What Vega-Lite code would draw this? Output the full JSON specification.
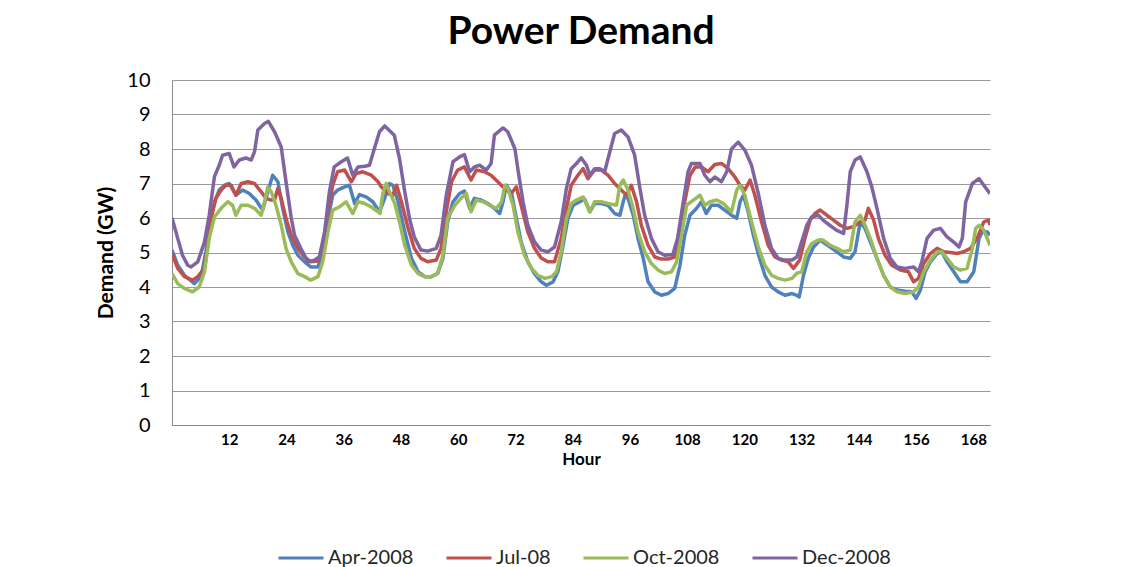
{
 "$schema": "https://vega.github.io/schema/vega-lite/v6.json",
 "autosize": "none",
 "width": 818,
 "height": 345,
 "padding": {"left": 172, "top": 80, "right": 151, "bottom": 142},
 "background": "white",
 "title": {"text": "Power Demand", "font": "Lato", "fontSize": 39, "fontWeight": "bold", "color": "#000000", "anchor": "middle", "offset": 18},
 "config": {"view": {"stroke": null}, "font": "Lato"},
 "data": {"values": [
{"series":"Apr-2008","hour":0,"demand":5.07},{"series":"Apr-2008","hour":1.2,"demand":4.63},{"series":"Apr-2008","hour":2.6,"demand":4.34},{"series":"Apr-2008","hour":4.7,"demand":4.1},{"series":"Apr-2008","hour":6.1,"demand":4.3},{"series":"Apr-2008","hour":7.1,"demand":5.02},{"series":"Apr-2008","hour":7.8,"demand":5.79},{"series":"Apr-2008","hour":8.9,"demand":6.47},{"series":"Apr-2008","hour":9.9,"demand":6.81},{"series":"Apr-2008","hour":11,"demand":6.95},{"series":"Apr-2008","hour":12,"demand":7.0},{"series":"Apr-2008","hour":13.4,"demand":6.66},{"series":"Apr-2008","hour":14.8,"demand":6.81},{"series":"Apr-2008","hour":16.2,"demand":6.71},{"series":"Apr-2008","hour":17.6,"demand":6.52},{"series":"Apr-2008","hour":19,"demand":6.23},{"series":"Apr-2008","hour":20.1,"demand":6.76},{"series":"Apr-2008","hour":21.1,"demand":7.24},{"series":"Apr-2008","hour":22.2,"demand":7.05},{"series":"Apr-2008","hour":23.2,"demand":6.28},{"series":"Apr-2008","hour":24.3,"demand":5.6},{"series":"Apr-2008","hour":25.3,"demand":5.21},{"series":"Apr-2008","hour":26.4,"demand":4.92},{"series":"Apr-2008","hour":27.8,"demand":4.73},{"series":"Apr-2008","hour":29.1,"demand":4.58},{"series":"Apr-2008","hour":30.6,"demand":4.58},{"series":"Apr-2008","hour":31.6,"demand":5.02},{"series":"Apr-2008","hour":32.7,"demand":5.99},{"series":"Apr-2008","hour":33.7,"demand":6.66},{"series":"Apr-2008","hour":34.7,"demand":6.81},{"series":"Apr-2008","hour":36.2,"demand":6.9},{"series":"Apr-2008","hour":37.2,"demand":6.95},{"series":"Apr-2008","hour":38.3,"demand":6.42},{"series":"Apr-2008","hour":39.3,"demand":6.68},{"series":"Apr-2008","hour":40.7,"demand":6.61},{"series":"Apr-2008","hour":42.1,"demand":6.47},{"series":"Apr-2008","hour":43.5,"demand":6.18},{"series":"Apr-2008","hour":44.6,"demand":6.57},{"series":"Apr-2008","hour":45.6,"demand":7.0},{"series":"Apr-2008","hour":46.3,"demand":6.95},{"series":"Apr-2008","hour":47.4,"demand":6.47},{"series":"Apr-2008","hour":48.8,"demand":5.6},{"series":"Apr-2008","hour":50.2,"demand":4.83},{"series":"Apr-2008","hour":51.6,"demand":4.44},{"series":"Apr-2008","hour":53,"demand":4.3},{"series":"Apr-2008","hour":54.4,"demand":4.3},{"series":"Apr-2008","hour":55.7,"demand":4.39},{"series":"Apr-2008","hour":56.8,"demand":4.83},{"series":"Apr-2008","hour":57.8,"demand":5.89},{"series":"Apr-2008","hour":58.9,"demand":6.47},{"series":"Apr-2008","hour":60.3,"demand":6.71},{"series":"Apr-2008","hour":61.3,"demand":6.78},{"series":"Apr-2008","hour":62.4,"demand":6.28},{"series":"Apr-2008","hour":63.4,"demand":6.57},{"series":"Apr-2008","hour":64.8,"demand":6.52},{"series":"Apr-2008","hour":66.2,"demand":6.42},{"series":"Apr-2008","hour":67.6,"demand":6.28},{"series":"Apr-2008","hour":68.7,"demand":6.13},{"series":"Apr-2008","hour":69.4,"demand":6.47},{"series":"Apr-2008","hour":70.1,"demand":6.95},{"series":"Apr-2008","hour":71.2,"demand":6.71},{"series":"Apr-2008","hour":72.2,"demand":5.99},{"series":"Apr-2008","hour":73.2,"demand":5.31},{"series":"Apr-2008","hour":74.6,"demand":4.73},{"series":"Apr-2008","hour":76,"demand":4.39},{"series":"Apr-2008","hour":77.4,"demand":4.15},{"series":"Apr-2008","hour":78.5,"demand":4.05},{"series":"Apr-2008","hour":79.9,"demand":4.15},{"series":"Apr-2008","hour":80.9,"demand":4.44},{"series":"Apr-2008","hour":82,"demand":5.21},{"series":"Apr-2008","hour":83,"demand":5.99},{"series":"Apr-2008","hour":84.1,"demand":6.37},{"series":"Apr-2008","hour":85.5,"demand":6.47},{"series":"Apr-2008","hour":86.5,"demand":6.55},{"series":"Apr-2008","hour":87.6,"demand":6.18},{"series":"Apr-2008","hour":88.6,"demand":6.42},{"series":"Apr-2008","hour":90,"demand":6.42},{"series":"Apr-2008","hour":91.4,"demand":6.37},{"series":"Apr-2008","hour":92.8,"demand":6.13},{"series":"Apr-2008","hour":93.9,"demand":6.08},{"series":"Apr-2008","hour":94.6,"demand":6.47},{"series":"Apr-2008","hour":95,"demand":6.66},{"series":"Apr-2008","hour":95.6,"demand":6.57},{"series":"Apr-2008","hour":96.7,"demand":6.08},{"series":"Apr-2008","hour":97.7,"demand":5.41},{"series":"Apr-2008","hour":98.8,"demand":4.83},{"series":"Apr-2008","hour":99.8,"demand":4.15},{"series":"Apr-2008","hour":101.2,"demand":3.86},{"series":"Apr-2008","hour":102.6,"demand":3.76},{"series":"Apr-2008","hour":104,"demand":3.81},{"series":"Apr-2008","hour":105.4,"demand":3.96},{"series":"Apr-2008","hour":106.5,"demand":4.63},{"series":"Apr-2008","hour":107.5,"demand":5.5},{"series":"Apr-2008","hour":108.6,"demand":6.08},{"series":"Apr-2008","hour":110,"demand":6.28},{"series":"Apr-2008","hour":111,"demand":6.47},{"series":"Apr-2008","hour":112,"demand":6.13},{"series":"Apr-2008","hour":113.1,"demand":6.37},{"series":"Apr-2008","hour":114.5,"demand":6.37},{"series":"Apr-2008","hour":115.9,"demand":6.23},{"series":"Apr-2008","hour":117.3,"demand":6.08},{"series":"Apr-2008","hour":118.4,"demand":5.99},{"series":"Apr-2008","hour":119.1,"demand":6.47},{"series":"Apr-2008","hour":119.8,"demand":6.66},{"series":"Apr-2008","hour":120.8,"demand":6.18},{"series":"Apr-2008","hour":121.9,"demand":5.5},{"series":"Apr-2008","hour":123,"demand":4.92},{"series":"Apr-2008","hour":124.3,"demand":4.34},{"series":"Apr-2008","hour":125.7,"demand":4.0},{"series":"Apr-2008","hour":127.1,"demand":3.86},{"series":"Apr-2008","hour":128.5,"demand":3.76},{"series":"Apr-2008","hour":130,"demand":3.81},{"series":"Apr-2008","hour":131,"demand":3.76},{"series":"Apr-2008","hour":131.5,"demand":3.71},{"series":"Apr-2008","hour":132.4,"demand":4.34},{"series":"Apr-2008","hour":133.4,"demand":4.83},{"series":"Apr-2008","hour":134.5,"demand":5.16},{"series":"Apr-2008","hour":135.9,"demand":5.36},{"series":"Apr-2008","hour":136.9,"demand":5.26},{"series":"Apr-2008","hour":138,"demand":5.16},{"series":"Apr-2008","hour":139.4,"demand":5.02},{"series":"Apr-2008","hour":140.8,"demand":4.87},{"series":"Apr-2008","hour":142.2,"demand":4.83},{"series":"Apr-2008","hour":143.2,"demand":5.02},{"series":"Apr-2008","hour":144.3,"demand":5.89},{"series":"Apr-2008","hour":145.3,"demand":5.7},{"series":"Apr-2008","hour":146.4,"demand":5.31},{"series":"Apr-2008","hour":147.8,"demand":4.83},{"series":"Apr-2008","hour":149.2,"demand":4.34},{"series":"Apr-2008","hour":150.6,"demand":4.0},{"series":"Apr-2008","hour":152,"demand":3.91},{"series":"Apr-2008","hour":153.7,"demand":3.88},{"series":"Apr-2008","hour":155.1,"demand":3.86},{"series":"Apr-2008","hour":156,"demand":3.67},{"series":"Apr-2008","hour":156.9,"demand":3.91},{"series":"Apr-2008","hour":157.9,"demand":4.44},{"series":"Apr-2008","hour":159,"demand":4.73},{"series":"Apr-2008","hour":160.4,"demand":4.97},{"series":"Apr-2008","hour":161.4,"demand":5.02},{"series":"Apr-2008","hour":162.5,"demand":4.73},{"series":"Apr-2008","hour":163.9,"demand":4.44},{"series":"Apr-2008","hour":165.3,"demand":4.15},{"series":"Apr-2008","hour":166.7,"demand":4.15},{"series":"Apr-2008","hour":168.1,"demand":4.44},{"series":"Apr-2008","hour":169.2,"demand":5.41},{"series":"Apr-2008","hour":169.9,"demand":5.6},{"series":"Apr-2008","hour":170.9,"demand":5.6},{"series":"Apr-2008","hour":171.5,"demand":5.5},
{"series":"Jul-08","hour":0,"demand":4.97},{"series":"Jul-08","hour":1.2,"demand":4.54},{"series":"Jul-08","hour":2.6,"demand":4.3},{"series":"Jul-08","hour":4.3,"demand":4.2},{"series":"Jul-08","hour":5.4,"demand":4.3},{"series":"Jul-08","hour":6.8,"demand":4.54},{"series":"Jul-08","hour":7.5,"demand":5.21},{"series":"Jul-08","hour":8.2,"demand":5.99},{"series":"Jul-08","hour":9.2,"demand":6.57},{"series":"Jul-08","hour":10.3,"demand":6.81},{"series":"Jul-08","hour":11.3,"demand":6.95},{"series":"Jul-08","hour":12.4,"demand":6.95},{"series":"Jul-08","hour":13.4,"demand":6.66},{"series":"Jul-08","hour":14.5,"demand":7.0},{"series":"Jul-08","hour":15.9,"demand":7.05},{"series":"Jul-08","hour":17.3,"demand":7.0},{"series":"Jul-08","hour":18.7,"demand":6.76},{"series":"Jul-08","hour":19.7,"demand":6.57},{"series":"Jul-08","hour":20.8,"demand":6.52},{"series":"Jul-08","hour":21.5,"demand":6.52},{"series":"Jul-08","hour":22.2,"demand":6.86},{"series":"Jul-08","hour":22.9,"demand":6.57},{"series":"Jul-08","hour":23.9,"demand":5.99},{"series":"Jul-08","hour":25,"demand":5.5},{"series":"Jul-08","hour":26.4,"demand":5.12},{"series":"Jul-08","hour":27.8,"demand":4.87},{"series":"Jul-08","hour":29.1,"demand":4.73},{"series":"Jul-08","hour":30.6,"demand":4.75},{"series":"Jul-08","hour":31.6,"demand":5.21},{"series":"Jul-08","hour":32.7,"demand":6.18},{"series":"Jul-08","hour":33.7,"demand":6.95},{"series":"Jul-08","hour":34.7,"demand":7.34},{"series":"Jul-08","hour":36.2,"demand":7.39},{"series":"Jul-08","hour":37.6,"demand":7.05},{"series":"Jul-08","hour":38.6,"demand":7.29},{"series":"Jul-08","hour":40,"demand":7.34},{"series":"Jul-08","hour":41.8,"demand":7.24},{"series":"Jul-08","hour":43.2,"demand":7.05},{"series":"Jul-08","hour":43.9,"demand":6.9},{"series":"Jul-08","hour":45.3,"demand":6.71},{"series":"Jul-08","hour":46.3,"demand":6.66},{"series":"Jul-08","hour":47.1,"demand":6.95},{"series":"Jul-08","hour":48.1,"demand":6.47},{"series":"Jul-08","hour":49.5,"demand":5.7},{"series":"Jul-08","hour":50.8,"demand":5.12},{"series":"Jul-08","hour":52.2,"demand":4.83},{"series":"Jul-08","hour":53.6,"demand":4.73},{"series":"Jul-08","hour":55.4,"demand":4.78},{"series":"Jul-08","hour":56.4,"demand":5.12},{"series":"Jul-08","hour":57.5,"demand":6.18},{"series":"Jul-08","hour":58.6,"demand":7.05},{"series":"Jul-08","hour":59.9,"demand":7.39},{"series":"Jul-08","hour":61.3,"demand":7.48},{"series":"Jul-08","hour":62.7,"demand":7.1},{"series":"Jul-08","hour":63.8,"demand":7.39},{"series":"Jul-08","hour":65.5,"demand":7.34},{"series":"Jul-08","hour":66.9,"demand":7.24},{"series":"Jul-08","hour":68.3,"demand":7.05},{"series":"Jul-08","hour":69.7,"demand":6.86},{"series":"Jul-08","hour":71.1,"demand":6.71},{"series":"Jul-08","hour":72.2,"demand":6.9},{"series":"Jul-08","hour":73.2,"demand":6.37},{"series":"Jul-08","hour":74.6,"demand":5.6},{"series":"Jul-08","hour":76,"demand":5.12},{"series":"Jul-08","hour":77.4,"demand":4.84},{"series":"Jul-08","hour":78.8,"demand":4.73},{"series":"Jul-08","hour":80.2,"demand":4.73},{"series":"Jul-08","hour":81.6,"demand":5.41},{"series":"Jul-08","hour":82.7,"demand":6.28},{"series":"Jul-08","hour":83.7,"demand":6.95},{"series":"Jul-08","hour":85.1,"demand":7.24},{"series":"Jul-08","hour":86.2,"demand":7.43},{"series":"Jul-08","hour":87.2,"demand":7.14},{"series":"Jul-08","hour":88.6,"demand":7.39},{"series":"Jul-08","hour":90,"demand":7.39},{"series":"Jul-08","hour":91.4,"demand":7.24},{"series":"Jul-08","hour":92.8,"demand":7.0},{"series":"Jul-08","hour":94.2,"demand":6.81},{"series":"Jul-08","hour":95.3,"demand":6.66},{"series":"Jul-08","hour":96.3,"demand":6.95},{"series":"Jul-08","hour":97.4,"demand":6.47},{"series":"Jul-08","hour":98.4,"demand":5.79},{"series":"Jul-08","hour":99.8,"demand":5.21},{"series":"Jul-08","hour":101.2,"demand":4.87},{"series":"Jul-08","hour":102.6,"demand":4.81},{"series":"Jul-08","hour":104,"demand":4.81},{"series":"Jul-08","hour":105.4,"demand":4.87},{"series":"Jul-08","hour":106.5,"demand":5.5},{"series":"Jul-08","hour":107.5,"demand":6.47},{"series":"Jul-08","hour":108.6,"demand":7.24},{"series":"Jul-08","hour":109.7,"demand":7.48},{"series":"Jul-08","hour":111,"demand":7.48},{"series":"Jul-08","hour":112.4,"demand":7.34},{"series":"Jul-08","hour":113.8,"demand":7.55},{"series":"Jul-08","hour":115.2,"demand":7.58},{"series":"Jul-08","hour":116.6,"demand":7.43},{"series":"Jul-08","hour":118,"demand":7.19},{"series":"Jul-08","hour":119.1,"demand":6.95},{"series":"Jul-08","hour":120.1,"demand":6.81},{"series":"Jul-08","hour":121.2,"demand":7.1},{"series":"Jul-08","hour":122.2,"demand":6.66},{"series":"Jul-08","hour":123.6,"demand":5.89},{"series":"Jul-08","hour":125,"demand":5.21},{"series":"Jul-08","hour":126.4,"demand":4.87},{"series":"Jul-08","hour":127.8,"demand":4.78},{"series":"Jul-08","hour":129.2,"demand":4.73},{"series":"Jul-08","hour":130.3,"demand":4.54},{"series":"Jul-08","hour":131.6,"demand":4.78},{"series":"Jul-08","hour":132.7,"demand":5.41},{"series":"Jul-08","hour":133.8,"demand":5.94},{"series":"Jul-08","hour":134.8,"demand":6.13},{"series":"Jul-08","hour":135.9,"demand":6.23},{"series":"Jul-08","hour":137.3,"demand":6.08},{"series":"Jul-08","hour":138.7,"demand":5.94},{"series":"Jul-08","hour":140.1,"demand":5.79},{"series":"Jul-08","hour":141.5,"demand":5.7},{"series":"Jul-08","hour":142.9,"demand":5.75},{"series":"Jul-08","hour":144.3,"demand":5.89},{"series":"Jul-08","hour":145.3,"demand":5.94},{"series":"Jul-08","hour":146,"demand":6.28},{"series":"Jul-08","hour":147.1,"demand":5.94},{"series":"Jul-08","hour":148.1,"demand":5.41},{"series":"Jul-08","hour":149.5,"demand":4.92},{"series":"Jul-08","hour":150.9,"demand":4.63},{"series":"Jul-08","hour":152.7,"demand":4.49},{"series":"Jul-08","hour":154.4,"demand":4.44},{"series":"Jul-08","hour":155.5,"demand":4.15},{"series":"Jul-08","hour":156.5,"demand":4.25},{"series":"Jul-08","hour":157.6,"demand":4.68},{"series":"Jul-08","hour":159,"demand":4.97},{"series":"Jul-08","hour":160.4,"demand":5.12},{"series":"Jul-08","hour":161.8,"demand":5.02},{"series":"Jul-08","hour":163.2,"demand":5.0},{"series":"Jul-08","hour":164.6,"demand":4.97},{"series":"Jul-08","hour":166,"demand":5.02},{"series":"Jul-08","hour":167.4,"demand":5.12},{"series":"Jul-08","hour":168.8,"demand":5.41},{"series":"Jul-08","hour":170.2,"demand":5.89},{"series":"Jul-08","hour":171.2,"demand":5.94},{"series":"Jul-08","hour":171.5,"demand":5.8},
{"series":"Oct-2008","hour":0,"demand":4.39},{"series":"Oct-2008","hour":1.2,"demand":4.1},{"series":"Oct-2008","hour":2.6,"demand":3.96},{"series":"Oct-2008","hour":4.3,"demand":3.86},{"series":"Oct-2008","hour":5.7,"demand":4.0},{"series":"Oct-2008","hour":6.8,"demand":4.44},{"series":"Oct-2008","hour":7.8,"demand":5.41},{"series":"Oct-2008","hour":8.9,"demand":6.03},{"series":"Oct-2008","hour":10.3,"demand":6.28},{"series":"Oct-2008","hour":11.7,"demand":6.47},{"series":"Oct-2008","hour":12.7,"demand":6.37},{"series":"Oct-2008","hour":13.4,"demand":6.08},{"series":"Oct-2008","hour":14.5,"demand":6.37},{"series":"Oct-2008","hour":15.9,"demand":6.37},{"series":"Oct-2008","hour":17.3,"demand":6.28},{"series":"Oct-2008","hour":18.7,"demand":6.08},{"series":"Oct-2008","hour":19.4,"demand":6.47},{"series":"Oct-2008","hour":20.1,"demand":6.9},{"series":"Oct-2008","hour":20.8,"demand":6.76},{"series":"Oct-2008","hour":21.8,"demand":6.37},{"series":"Oct-2008","hour":22.9,"demand":5.79},{"series":"Oct-2008","hour":23.9,"demand":5.12},{"series":"Oct-2008","hour":25,"demand":4.73},{"series":"Oct-2008","hour":26.4,"demand":4.39},{"series":"Oct-2008","hour":27.8,"demand":4.3},{"series":"Oct-2008","hour":29.1,"demand":4.2},{"series":"Oct-2008","hour":30.6,"demand":4.3},{"series":"Oct-2008","hour":31.6,"demand":4.73},{"series":"Oct-2008","hour":32.7,"demand":5.6},{"series":"Oct-2008","hour":33.7,"demand":6.23},{"series":"Oct-2008","hour":35.1,"demand":6.32},{"series":"Oct-2008","hour":36.5,"demand":6.47},{"series":"Oct-2008","hour":37.9,"demand":6.13},{"series":"Oct-2008","hour":39,"demand":6.47},{"series":"Oct-2008","hour":40.4,"demand":6.42},{"series":"Oct-2008","hour":41.8,"demand":6.32},{"series":"Oct-2008","hour":43.2,"demand":6.18},{"series":"Oct-2008","hour":43.6,"demand":6.13},{"series":"Oct-2008","hour":44.2,"demand":6.71},{"series":"Oct-2008","hour":44.9,"demand":7.0},{"series":"Oct-2008","hour":45.6,"demand":6.76},{"series":"Oct-2008","hour":46.7,"demand":6.42},{"series":"Oct-2008","hour":47.7,"demand":5.89},{"series":"Oct-2008","hour":48.8,"demand":5.21},{"series":"Oct-2008","hour":50.2,"demand":4.63},{"series":"Oct-2008","hour":51.6,"demand":4.39},{"series":"Oct-2008","hour":53,"demand":4.3},{"series":"Oct-2008","hour":54.4,"demand":4.3},{"series":"Oct-2008","hour":55.7,"demand":4.39},{"series":"Oct-2008","hour":56.8,"demand":4.92},{"series":"Oct-2008","hour":57.8,"demand":5.99},{"series":"Oct-2008","hour":59.3,"demand":6.37},{"series":"Oct-2008","hour":60.6,"demand":6.57},{"series":"Oct-2008","hour":61.7,"demand":6.71},{"series":"Oct-2008","hour":62.7,"demand":6.18},{"series":"Oct-2008","hour":63.8,"demand":6.52},{"series":"Oct-2008","hour":65.2,"demand":6.47},{"series":"Oct-2008","hour":66.6,"demand":6.37},{"series":"Oct-2008","hour":68,"demand":6.28},{"series":"Oct-2008","hour":69.1,"demand":6.47},{"series":"Oct-2008","hour":69.8,"demand":6.95},{"series":"Oct-2008","hour":70.4,"demand":6.86},{"series":"Oct-2008","hour":71.5,"demand":6.37},{"series":"Oct-2008","hour":72.5,"demand":5.6},{"series":"Oct-2008","hour":73.9,"demand":4.92},{"series":"Oct-2008","hour":75.4,"demand":4.54},{"series":"Oct-2008","hour":76.7,"demand":4.34},{"series":"Oct-2008","hour":78.2,"demand":4.25},{"series":"Oct-2008","hour":79.6,"demand":4.3},{"series":"Oct-2008","hour":80.6,"demand":4.44},{"series":"Oct-2008","hour":81.6,"demand":5.02},{"series":"Oct-2008","hour":82.7,"demand":5.99},{"series":"Oct-2008","hour":83.7,"demand":6.42},{"series":"Oct-2008","hour":84.8,"demand":6.52},{"series":"Oct-2008","hour":86.2,"demand":6.61},{"series":"Oct-2008","hour":87.6,"demand":6.18},{"series":"Oct-2008","hour":88.6,"demand":6.47},{"series":"Oct-2008","hour":90,"demand":6.47},{"series":"Oct-2008","hour":91.4,"demand":6.42},{"series":"Oct-2008","hour":93.2,"demand":6.37},{"series":"Oct-2008","hour":93.9,"demand":6.95},{"series":"Oct-2008","hour":94.6,"demand":7.1},{"series":"Oct-2008","hour":95.6,"demand":6.81},{"series":"Oct-2008","hour":96.7,"demand":6.28},{"series":"Oct-2008","hour":97.7,"demand":5.6},{"series":"Oct-2008","hour":99.1,"demand":5.02},{"series":"Oct-2008","hour":100.5,"demand":4.68},{"series":"Oct-2008","hour":101.9,"demand":4.49},{"series":"Oct-2008","hour":103.3,"demand":4.39},{"series":"Oct-2008","hour":104.7,"demand":4.44},{"series":"Oct-2008","hour":105.8,"demand":4.73},{"series":"Oct-2008","hour":106.8,"demand":5.5},{"series":"Oct-2008","hour":107.9,"demand":6.37},{"series":"Oct-2008","hour":109.3,"demand":6.52},{"series":"Oct-2008","hour":110.7,"demand":6.66},{"series":"Oct-2008","hour":111.7,"demand":6.37},{"series":"Oct-2008","hour":112.8,"demand":6.47},{"series":"Oct-2008","hour":114.2,"demand":6.52},{"series":"Oct-2008","hour":115.6,"demand":6.42},{"series":"Oct-2008","hour":117.3,"demand":6.18},{"series":"Oct-2008","hour":118.4,"demand":6.81},{"series":"Oct-2008","hour":119.1,"demand":6.95},{"series":"Oct-2008","hour":120.1,"demand":6.66},{"series":"Oct-2008","hour":121.5,"demand":5.89},{"series":"Oct-2008","hour":123,"demand":5.12},{"series":"Oct-2008","hour":124.3,"demand":4.63},{"series":"Oct-2008","hour":125.7,"demand":4.34},{"series":"Oct-2008","hour":127.1,"demand":4.25},{"series":"Oct-2008","hour":128.5,"demand":4.2},{"series":"Oct-2008","hour":130,"demand":4.25},{"series":"Oct-2008","hour":131,"demand":4.4},{"series":"Oct-2008","hour":132,"demand":4.44},{"series":"Oct-2008","hour":133.1,"demand":5.02},{"series":"Oct-2008","hour":134.1,"demand":5.26},{"series":"Oct-2008","hour":135.5,"demand":5.36},{"series":"Oct-2008","hour":136.5,"demand":5.36},{"series":"Oct-2008","hour":138,"demand":5.21},{"series":"Oct-2008","hour":139.4,"demand":5.12},{"series":"Oct-2008","hour":140.8,"demand":5.02},{"series":"Oct-2008","hour":142.2,"demand":5.07},{"series":"Oct-2008","hour":143.2,"demand":5.89},{"series":"Oct-2008","hour":144.3,"demand":6.08},{"series":"Oct-2008","hour":145.3,"demand":5.79},{"series":"Oct-2008","hour":146.4,"demand":5.41},{"series":"Oct-2008","hour":147.8,"demand":4.83},{"series":"Oct-2008","hour":149.2,"demand":4.34},{"series":"Oct-2008","hour":150.6,"demand":4.0},{"series":"Oct-2008","hour":152,"demand":3.86},{"series":"Oct-2008","hour":153.7,"demand":3.81},{"series":"Oct-2008","hour":155.5,"demand":3.86},{"series":"Oct-2008","hour":156.5,"demand":4.0},{"series":"Oct-2008","hour":157.6,"demand":4.44},{"series":"Oct-2008","hour":159,"demand":4.78},{"series":"Oct-2008","hour":160.4,"demand":5.02},{"series":"Oct-2008","hour":161.4,"demand":5.02},{"series":"Oct-2008","hour":162.5,"demand":4.83},{"series":"Oct-2008","hour":163.9,"demand":4.58},{"series":"Oct-2008","hour":165.3,"demand":4.49},{"series":"Oct-2008","hour":166.7,"demand":4.54},{"series":"Oct-2008","hour":167.8,"demand":5.12},{"series":"Oct-2008","hour":168.5,"demand":5.7},{"series":"Oct-2008","hour":169.2,"demand":5.79},{"series":"Oct-2008","hour":170.2,"demand":5.65},{"series":"Oct-2008","hour":171.5,"demand":5.21},
{"series":"Dec-2008","hour":0,"demand":6.0},{"series":"Dec-2008","hour":1.2,"demand":5.41},{"series":"Dec-2008","hour":2.2,"demand":4.92},{"series":"Dec-2008","hour":3.3,"demand":4.63},{"series":"Dec-2008","hour":4,"demand":4.58},{"series":"Dec-2008","hour":5.4,"demand":4.73},{"series":"Dec-2008","hour":6.8,"demand":5.3},{"series":"Dec-2008","hour":7.8,"demand":6.08},{"series":"Dec-2008","hour":8.9,"demand":7.2},{"series":"Dec-2008","hour":9.9,"demand":7.53},{"series":"Dec-2008","hour":10.6,"demand":7.82},{"series":"Dec-2008","hour":12,"demand":7.87},{"series":"Dec-2008","hour":13,"demand":7.48},{"series":"Dec-2008","hour":14.1,"demand":7.68},{"series":"Dec-2008","hour":15.5,"demand":7.74},{"series":"Dec-2008","hour":16.6,"demand":7.68},{"series":"Dec-2008","hour":17.3,"demand":7.92},{"series":"Dec-2008","hour":18,"demand":8.55},{"series":"Dec-2008","hour":19.4,"demand":8.74},{"series":"Dec-2008","hour":20.2,"demand":8.8},{"series":"Dec-2008","hour":21.5,"demand":8.5},{"series":"Dec-2008","hour":22.9,"demand":8.06},{"series":"Dec-2008","hour":23.9,"demand":7.05},{"series":"Dec-2008","hour":25,"demand":6.0},{"series":"Dec-2008","hour":25.7,"demand":5.5},{"series":"Dec-2008","hour":27,"demand":5.12},{"series":"Dec-2008","hour":28.5,"demand":4.73},{"series":"Dec-2008","hour":29.9,"demand":4.78},{"series":"Dec-2008","hour":30.9,"demand":4.87},{"series":"Dec-2008","hour":32,"demand":5.6},{"series":"Dec-2008","hour":33,"demand":6.76},{"series":"Dec-2008","hour":34,"demand":7.48},{"series":"Dec-2008","hour":35.5,"demand":7.63},{"series":"Dec-2008","hour":36.8,"demand":7.74},{"series":"Dec-2008","hour":37.9,"demand":7.24},{"series":"Dec-2008","hour":39,"demand":7.48},{"series":"Dec-2008","hour":40.4,"demand":7.5},{"series":"Dec-2008","hour":41.4,"demand":7.53},{"series":"Dec-2008","hour":42.4,"demand":8.0},{"series":"Dec-2008","hour":43.5,"demand":8.5},{"series":"Dec-2008","hour":44.6,"demand":8.67},{"series":"Dec-2008","hour":46.6,"demand":8.4},{"series":"Dec-2008","hour":47.7,"demand":7.72},{"series":"Dec-2008","hour":48.8,"demand":6.76},{"series":"Dec-2008","hour":49.8,"demand":5.98},{"series":"Dec-2008","hour":50.8,"demand":5.45},{"series":"Dec-2008","hour":52.2,"demand":5.07},{"series":"Dec-2008","hour":53.6,"demand":5.04},{"series":"Dec-2008","hour":55.4,"demand":5.12},{"series":"Dec-2008","hour":56.4,"demand":5.5},{"series":"Dec-2008","hour":57.5,"demand":6.66},{"series":"Dec-2008","hour":58.9,"demand":7.63},{"series":"Dec-2008","hour":60.3,"demand":7.77},{"series":"Dec-2008","hour":61.3,"demand":7.84},{"series":"Dec-2008","hour":62.4,"demand":7.34},{"series":"Dec-2008","hour":63.4,"demand":7.48},{"series":"Dec-2008","hour":64.5,"demand":7.53},{"series":"Dec-2008","hour":65.9,"demand":7.39},{"series":"Dec-2008","hour":66.9,"demand":7.58},{"series":"Dec-2008","hour":67.6,"demand":8.4},{"series":"Dec-2008","hour":69.4,"demand":8.61},{"series":"Dec-2008","hour":70.4,"demand":8.5},{"series":"Dec-2008","hour":71.9,"demand":8.0},{"series":"Dec-2008","hour":72.6,"demand":7.34},{"series":"Dec-2008","hour":73.6,"demand":6.47},{"series":"Dec-2008","hour":74.6,"demand":5.79},{"series":"Dec-2008","hour":76,"demand":5.31},{"series":"Dec-2008","hour":77.4,"demand":5.07},{"series":"Dec-2008","hour":78.8,"demand":5.02},{"series":"Dec-2008","hour":80.2,"demand":5.16},{"series":"Dec-2008","hour":81.6,"demand":5.89},{"series":"Dec-2008","hour":82.7,"demand":6.86},{"series":"Dec-2008","hour":83.7,"demand":7.43},{"series":"Dec-2008","hour":84.8,"demand":7.58},{"series":"Dec-2008","hour":85.8,"demand":7.74},{"series":"Dec-2008","hour":86.9,"demand":7.53},{"series":"Dec-2008","hour":87.6,"demand":7.24},{"series":"Dec-2008","hour":88.6,"demand":7.43},{"series":"Dec-2008","hour":89.7,"demand":7.43},{"series":"Dec-2008","hour":90.7,"demand":7.34},{"series":"Dec-2008","hour":91.8,"demand":7.92},{"series":"Dec-2008","hour":92.8,"demand":8.45},{"series":"Dec-2008","hour":94.2,"demand":8.55},{"series":"Dec-2008","hour":95.6,"demand":8.35},{"series":"Dec-2008","hour":97,"demand":7.82},{"series":"Dec-2008","hour":98.1,"demand":6.86},{"series":"Dec-2008","hour":99.1,"demand":6.08},{"series":"Dec-2008","hour":100.5,"demand":5.41},{"series":"Dec-2008","hour":101.9,"demand":5.02},{"series":"Dec-2008","hour":103.3,"demand":4.92},{"series":"Dec-2008","hour":105,"demand":4.94},{"series":"Dec-2008","hour":106,"demand":5.41},{"series":"Dec-2008","hour":107.2,"demand":6.47},{"series":"Dec-2008","hour":108.2,"demand":7.34},{"series":"Dec-2008","hour":108.9,"demand":7.58},{"series":"Dec-2008","hour":110.7,"demand":7.58},{"series":"Dec-2008","hour":111.7,"demand":7.24},{"series":"Dec-2008","hour":112.8,"demand":7.05},{"series":"Dec-2008","hour":113.8,"demand":7.19},{"series":"Dec-2008","hour":115.2,"demand":7.05},{"series":"Dec-2008","hour":116.3,"demand":7.34},{"series":"Dec-2008","hour":117.3,"demand":8.0},{"series":"Dec-2008","hour":118.7,"demand":8.2},{"series":"Dec-2008","hour":120.1,"demand":7.97},{"series":"Dec-2008","hour":121.5,"demand":7.53},{"series":"Dec-2008","hour":123,"demand":6.66},{"series":"Dec-2008","hour":124.3,"demand":5.79},{"series":"Dec-2008","hour":125.7,"demand":5.12},{"series":"Dec-2008","hour":127.1,"demand":4.83},{"series":"Dec-2008","hour":128.5,"demand":4.78},{"series":"Dec-2008","hour":130,"demand":4.78},{"series":"Dec-2008","hour":131,"demand":4.87},{"series":"Dec-2008","hour":132,"demand":5.3},{"series":"Dec-2008","hour":133.1,"demand":5.79},{"series":"Dec-2008","hour":134.1,"demand":6.03},{"series":"Dec-2008","hour":135.5,"demand":6.08},{"series":"Dec-2008","hour":136.5,"demand":5.94},{"series":"Dec-2008","hour":137.9,"demand":5.79},{"series":"Dec-2008","hour":139.3,"demand":5.65},{"series":"Dec-2008","hour":140.8,"demand":5.55},{"series":"Dec-2008","hour":141.5,"demand":6.37},{"series":"Dec-2008","hour":142.2,"demand":7.34},{"series":"Dec-2008","hour":143.2,"demand":7.68},{"series":"Dec-2008","hour":144.3,"demand":7.77},{"series":"Dec-2008","hour":145.7,"demand":7.34},{"series":"Dec-2008","hour":146.7,"demand":6.91},{"series":"Dec-2008","hour":147.8,"demand":6.28},{"series":"Dec-2008","hour":149.2,"demand":5.41},{"series":"Dec-2008","hour":150.6,"demand":4.83},{"series":"Dec-2008","hour":152,"demand":4.58},{"series":"Dec-2008","hour":153.7,"demand":4.54},{"series":"Dec-2008","hour":155.5,"demand":4.58},{"series":"Dec-2008","hour":156.5,"demand":4.44},{"series":"Dec-2008","hour":157.2,"demand":4.73},{"series":"Dec-2008","hour":158.3,"demand":5.41},{"series":"Dec-2008","hour":159.7,"demand":5.65},{"series":"Dec-2008","hour":161.1,"demand":5.7},{"series":"Dec-2008","hour":162.5,"demand":5.45},{"series":"Dec-2008","hour":163.9,"demand":5.3},{"series":"Dec-2008","hour":165,"demand":5.16},{"series":"Dec-2008","hour":165.7,"demand":5.41},{"series":"Dec-2008","hour":166.4,"demand":6.47},{"series":"Dec-2008","hour":167.8,"demand":7.0},{"series":"Dec-2008","hour":169.2,"demand":7.14},{"series":"Dec-2008","hour":170.2,"demand":6.95},{"series":"Dec-2008","hour":171.5,"demand":6.7}
 ]},
 "mark": {"type": "line", "strokeWidth": 3.5, "strokeJoin": "round", "clip": true},
 "encoding": {
  "x": {"field": "hour", "type": "quantitative",
        "scale": {"domain": [0, 171.5], "nice": false, "zero": false},
        "axis": {"values": [12,24,36,48,60,72,84,96,108,120,132,144,156,168], "title": "Hour", "grid": false, "ticks": false,
                 "domainColor": "#8a8a8a", "domainWidth": 1,
                 "labelFont": "Lato", "labelFontWeight": "bold", "labelFontSize": 15, "labelColor": "#000000", "labelPadding": 7,
                 "titleFont": "Lato", "titleFontSize": 17, "titleFontWeight": "bold", "titleColor": "#000000", "titlePadding": 4}},
  "y": {"field": "demand", "type": "quantitative",
        "scale": {"domain": [0, 10], "nice": false},
        "axis": {"values": [0,1,2,3,4,5,6,7,8,9,10], "title": "Demand (GW)", "grid": true, "gridColor": "#999999", "gridWidth": 1, "ticks": false,
                 "domainColor": "#8a8a8a", "domainWidth": 1,
                 "labelFont": "Lato", "labelFontSize": 20, "labelColor": "#000000", "labelPadding": 22,
                 "titleFont": "Lato", "titleFontSize": 21, "titleFontWeight": "bold", "titleColor": "#000000", "titlePadding": 10}},
  "color": {"field": "series", "type": "nominal",
            "scale": {"domain": ["Apr-2008", "Jul-08", "Oct-2008", "Dec-2008"], "range": ["#4F81BD", "#C0504D", "#9BBB59", "#8064A2"]},
            "legend": {"orient": "none", "legendX": 105, "legendY": 454, "direction": "horizontal", "title": null,
                       "symbolType": "stroke", "symbolSize": 2025, "symbolStrokeWidth": 3,
                       "labelFont": "Lato", "labelFontSize": 20, "labelFontWeight": "normal", "labelColor": "#262626", "labelOffset": 3, "columnPadding": 26}}
 }
}
